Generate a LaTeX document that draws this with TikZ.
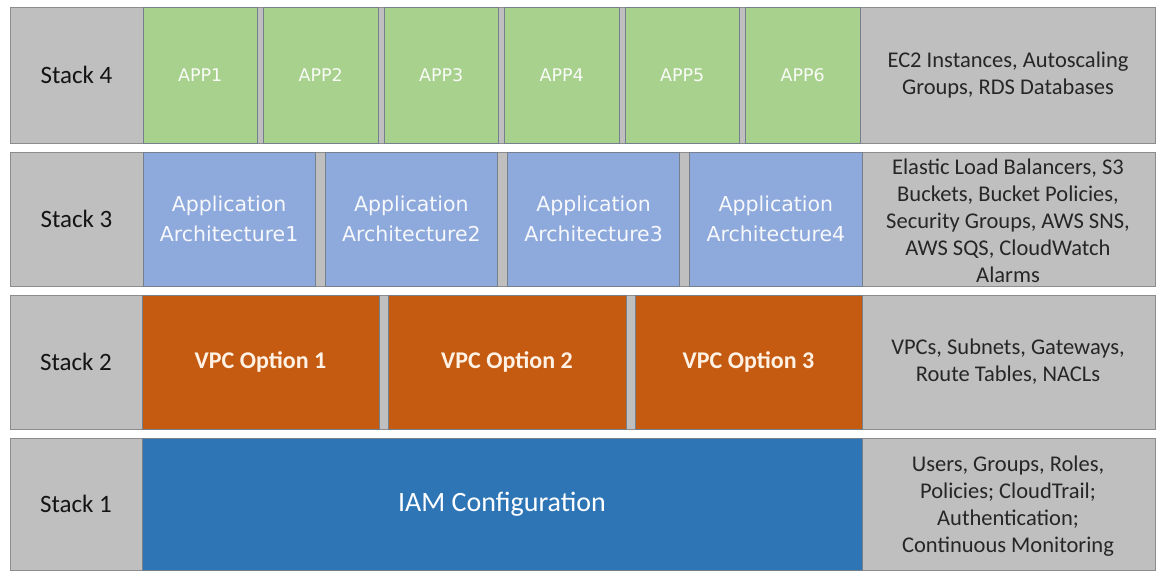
\documentclass[tikz,border=0pt]{standalone}
\usepackage{fontspec}
\setmainfont{Carlito}
\newfontfamily\appfont{DejaVu Sans}
\definecolor{stackgray}{RGB}{191,191,191}
\definecolor{bandedge}{RGB}{140,140,140}
\definecolor{celledge}{RGB}{118,128,140}
\definecolor{appgreen}{RGB}{169,209,142}
\definecolor{archblue}{RGB}{142,169,219}
\definecolor{vpcorange}{RGB}{197,90,17}
\definecolor{iamblue}{RGB}{46,117,182}
\definecolor{textdark}{RGB}{38,38,38}

\begin{document}
\begin{tikzpicture}[
    x=1pt, y=-1pt,
    band/.style={draw=bandedge, fill=stackgray, line width=0.8pt, minimum width=1145pt, inner sep=0pt},
    cell/.style={draw=celledge, line width=0.8pt, inner sep=0pt, align=center},
    stacktag/.style={font=\fontsize{25}{28}\selectfont, text=black!92},
    resources/.style={align=center, font=\fontsize{22.5}{27}\selectfont, text=textdark}
]
    \useasboundingbox (0,0) rectangle (1158,571);

    % grey bands behind each stack
    \node[band, minimum height=136pt] (band4) at (582.5,75) {};
    \node[band, minimum height=134pt] (band3) at (582.5,219) {};
    \node[band, minimum height=134pt] (band2) at (582.5,362) {};
    \node[band, minimum height=132pt] (band1) at (582.5,504) {};

    % Stack 4: applications
    \node[stacktag] (s4) at (76.5,75) {Stack 4};
    \node[cell, fill=appgreen, minimum width=114.5pt, minimum height=136pt, font=\appfont\fontsize{17.5}{21}\selectfont, text=white!92!appgreen] (app1) at (200.25,75) {APP1};
    \node[cell, fill=appgreen, minimum width=114.5pt, minimum height=136pt, font=\appfont\fontsize{17.5}{21}\selectfont, text=white!92!appgreen] (app2) at (320.75,75) {APP2};
    \node[cell, fill=appgreen, minimum width=114.5pt, minimum height=136pt, font=\appfont\fontsize{17.5}{21}\selectfont, text=white!92!appgreen] (app3) at (441.25,75) {APP3};
    \node[cell, fill=appgreen, minimum width=114.5pt, minimum height=136pt, font=\appfont\fontsize{17.5}{21}\selectfont, text=white!92!appgreen] (app4) at (561.75,75) {APP4};
    \node[cell, fill=appgreen, minimum width=114.5pt, minimum height=136pt, font=\appfont\fontsize{17.5}{21}\selectfont, text=white!92!appgreen] (app5) at (682.25,75) {APP5};
    \node[cell, fill=appgreen, minimum width=114.5pt, minimum height=136pt, font=\appfont\fontsize{17.5}{21}\selectfont, text=white!92!appgreen] (app6) at (802.75,75) {APP6};
    \node[resources] (s4res) at (1008,75) {EC2 Instances, Autoscaling\\Groups, RDS Databases};

    % Stack 3: application architectures
    \node[stacktag] (s3) at (76.5,219) {Stack 3};
    \node[cell, fill=archblue, minimum width=172.25pt, minimum height=134pt, font=\appfont\fontsize{20.5}{30}\selectfont, text=white!92!archblue] (arch1) at (229.1,219) {Application\\Architecture1};
    \node[cell, fill=archblue, minimum width=172.25pt, minimum height=134pt, font=\appfont\fontsize{20.5}{30}\selectfont, text=white!92!archblue] (arch2) at (411.4,219) {Application\\Architecture2};
    \node[cell, fill=archblue, minimum width=172.25pt, minimum height=134pt, font=\appfont\fontsize{20.5}{30}\selectfont, text=white!92!archblue] (arch3) at (593.6,219) {Application\\Architecture3};
    \node[cell, fill=archblue, minimum width=172.25pt, minimum height=134pt, font=\appfont\fontsize{20.5}{30}\selectfont, text=white!92!archblue] (arch4) at (775.9,219) {Application\\Architecture4};
    \node[resources] (s3res) at (1008,221) {Elastic Load Balancers, S3\\Buckets, Bucket Policies,\\Security Groups, AWS SNS,\\AWS SQS, CloudWatch\\Alarms};

    % Stack 2: network options
    \node[stacktag] (s2) at (76,362) {Stack 2};
    \node[cell, fill=vpcorange, minimum width=237pt, minimum height=134pt, font=\bfseries\fontsize{24}{28}\selectfont, text=white!90!orange] (vpc1) at (260.5,362) {VPC Option 1};
    \node[cell, fill=vpcorange, minimum width=238pt, minimum height=134pt, font=\bfseries\fontsize{24}{28}\selectfont, text=white!90!orange] (vpc2) at (507,362) {VPC Option 2};
    \node[cell, fill=vpcorange, minimum width=227pt, minimum height=134pt, font=\bfseries\fontsize{24}{28}\selectfont, text=white!90!orange] (vpc3) at (748.5,362) {VPC Option 3};
    \node[resources] (s2res) at (1008,362) {VPCs, Subnets, Gateways,\\Route Tables, NACLs};

    % Stack 1: identity
    \node[stacktag] (s1) at (76,504) {Stack 1};
    \node[cell, fill=iamblue, minimum width=720pt, minimum height=132pt, font=\fontsize{28}{32}\selectfont, text=white] (iam) at (502,504) {IAM Configuration};
    \node[resources] (s1res) at (1008,506) {Users, Groups, Roles,\\Policies; CloudTrail;\\Authentication;\\Continuous Monitoring};
\end{tikzpicture}
\end{document}
